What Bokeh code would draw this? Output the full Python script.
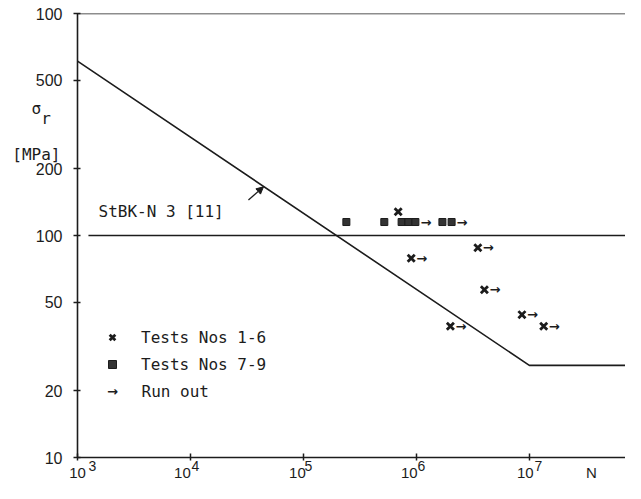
from bokeh.plotting import figure
from bokeh.models import (FixedTicker, Label, Legend, LegendItem, Arrow, NormalHead,
                          Range1d, Span, LogAxis)
from bokeh.core.properties import value
from bokeh.embed import file_html
from bokeh.resources import INLINE

# ---- data ----
tests_1_6_N = [6.9e5, 9.0e5, 3.5e6, 4.0e6, 8.6e6, 1.34e7, 2.0e6]
tests_1_6_S = [128, 79, 88, 57, 44, 39, 39]
tests_1_6_runout = [False, True, True, True, True, True, True]

tests_7_9_N = [2.4e5, 5.2e5, 7.4e5, 8.5e5, 9.8e5, 1.7e6, 2.05e6]
tests_7_9_S = [115, 115, 115, 115, 115, 115, 115]
tests_7_9_runout = [False, False, False, False, True, False, True]

design_N = [1e3, 1e7, 7.1e7]
design_S = [610, 26, 26]

stbk_N = [1.25e3, 7.1e7]
stbk_S = [100, 100]

x_ticks = [1e3, 1e4, 1e5, 1e6, 1e7]
x_tick_base = ["10", "10", "10", "10", "10"]
x_tick_exp = ["3", "4", "5", "6", "7"]
y_ticks = [10, 20, 50, 100, 200, 500, 1000]
y_tick_labels = ["10", "20", "50", "100", "200", "500", "100"]

# layout of the hand-lettered tick labels (pixel offsets from each tick)
PX_PER_DEC = 113.0
BASE_DX = [0, -8, -6, -7, -4]
EXP_DX = [15, 5, 5, 5, 9]
N_DX = 62
# y positions (in axis units) of the y-title pieces
TITLE_Y = [374, 337, 232]

INK = "#1c1c1c"
NUM_FONT = "Liberation Sans"
TXT_FONT = "DejaVu Sans Mono"
NB = "\u00a0"

p = figure(width=625, height=483, x_axis_type="log", y_axis_type="log",
           x_range=Range1d(1e3, 7.1e7), y_range=Range1d(10, 1000),
           output_backend="svg", toolbar_location=None,
           min_border_left=77, min_border_right=0, min_border_top=13,
           min_border_bottom=26)
p.outline_line_color = None
p.grid.visible = False
p.background_fill_color = "white"
p.border_fill_color = "white"

# y axis
ya = p.yaxis[0]
ya.ticker = FixedTicker(ticks=y_ticks, minor_ticks=[])
ya.major_label_overrides = dict(zip(y_ticks, y_tick_labels))
ya.axis_line_color = INK
ya.axis_line_width = 1.6
ya.major_tick_line_color = INK
ya.major_tick_line_width = 1.5
ya.major_tick_in = 3
ya.major_tick_out = 4
ya.minor_tick_line_color = None
ya.major_label_standoff = 11
ya.major_label_text_font = NUM_FONT
ya.major_label_text_font_size = "16px"
ya.major_label_text_color = INK

# x axis (tick marks only)
xa = p.xaxis[0]
xa.ticker = FixedTicker(ticks=x_ticks, minor_ticks=[])
xa.major_label_overrides = {t: "" for t in x_ticks}
xa.major_label_text_font_size = "1px"
xa.major_label_standoff = 0
xa.axis_line_color = INK
xa.axis_line_width = 1.6
xa.major_tick_line_color = INK
xa.major_tick_line_width = 1.5
xa.major_tick_in = 4
xa.major_tick_out = 3
xa.minor_tick_line_color = None


def label_axis(side, ticks, labels, standoff, font, size):
    ax = LogAxis(ticker=FixedTicker(ticks=ticks, minor_ticks=[]),
                 major_label_overrides=dict(zip(ticks, labels)),
                 axis_line_color=None, major_tick_line_color=None,
                 minor_tick_line_color=None, major_tick_in=0, major_tick_out=0,
                 major_label_standoff=standoff, major_label_text_font=font,
                 major_label_text_font_size=size, major_label_text_color=INK)
    p.add_layout(ax, side)
    return ax


# x tick labels: exponent row (closer to the axis), then the "10" row pulled up
exp_pos = [t * 10 ** (dx / PX_PER_DEC) for t, dx in zip(x_ticks, EXP_DX)]
base_pos = [t * 10 ** (dx / PX_PER_DEC) for t, dx in zip(x_ticks, BASE_DX)]
n_pos = x_ticks[-1] * 10 ** (N_DX / PX_PER_DEC)
label_axis("below", exp_pos, x_tick_exp, 0, NUM_FONT, "14px")
label_axis("below", base_pos + [n_pos], x_tick_base + ["N"], -10, NUM_FONT, "15px")

# y axis title: sigma_r and [MPa]
label_axis("left", TITLE_Y, ["σ" + NB * 2, "r" + NB, "[MPa]"], -28, TXT_FONT, "16px")

# top frame line
p.add_layout(Span(location=1000, dimension="width", line_color=INK, line_width=1.6))

# lines
p.line(design_N, design_S, line_color=INK, line_width=1.6)
p.line(stbk_N, stbk_S, line_color=INK, line_width=1.6)

# markers
r_x = p.scatter(tests_1_6_N, tests_1_6_S, marker="x", size=10, line_width=2.8,
                line_color=INK)
r_sq = p.scatter(tests_7_9_N, tests_7_9_S, marker="square", size=7,
                 fill_color="#333333", line_color=INK, line_width=1)

# run-out arrows
ro_N = [n for n, r in zip(tests_1_6_N, tests_1_6_runout) if r] + \
       [n for n, r in zip(tests_7_9_N, tests_7_9_runout) if r]
ro_S = [s for s, r in zip(tests_1_6_S, tests_1_6_runout) if r] + \
       [s for s, r in zip(tests_7_9_S, tests_7_9_runout) if r]
p.text(x=ro_N, y=ro_S, text=["→"] * len(ro_N), x_offset=5, text_align="left",
       text_baseline="middle", text_font=value("DejaVu Sans"),
       text_font_style="bold", text_font_size="13px", text_color=INK)

# legend
legend = Legend(items=[LegendItem(label="Tests Nos 1-6", renderers=[r_x]),
                       LegendItem(label="Tests Nos 7-9", renderers=[r_sq])],
                location=(25, 83), glyph_width=20, glyph_height=20,
                label_height=20, spacing=7, label_standoff=19, padding=0,
                margin=0, border_line_alpha=0, background_fill_alpha=0,
                label_text_font=TXT_FONT, label_text_font_size="16px",
                label_text_color=INK)
p.add_layout(legend)
p.add_layout(Label(x=35, y=66, x_units="screen", y_units="screen", text="→",
                   text_align="center", text_baseline="middle",
                   text_font="DejaVu Sans", text_font_style="bold",
                   text_font_size="13px", text_color=INK))
p.add_layout(Label(x=64, y=66, x_units="screen", y_units="screen", text="Run out",
                   text_align="left", text_baseline="middle",
                   text_font=TXT_FONT, text_font_size="16px", text_color=INK))

# curve label and leader arrow
p.add_layout(Label(x=21, y=246, x_units="screen", y_units="screen", text="StBK-N 3 [11]",
                   text_align="left", text_baseline="middle",
                   text_font=TXT_FONT, text_font_size="16px", text_color=INK))
p.add_layout(Arrow(end=NormalHead(size=7, fill_color=INK, line_color=INK),
                   x_start=3.26e4, y_start=144.5, x_end=4.43e4, y_end=165.6,
                   line_color=INK, line_width=1.3))

open("out.html", "w").write(file_html(p, INLINE))
